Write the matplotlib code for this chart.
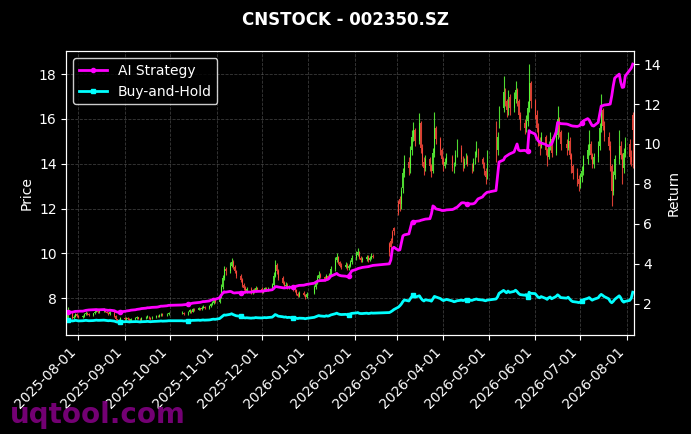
import matplotlib
matplotlib.use('Agg')
import matplotlib.pyplot as plt
import matplotlib.dates as mdates
import pandas as pd

COL_UP = '#5cff3a'
COL_DOWN = '#ff4a3d'
COL_AI = '#ff00ff'
COL_BH = '#00ffff'
COL_TEXT = 'white'

# trading calendar (weekdays minus exchange holidays)
HOLIDAYS = ['2025-10-01', '2025-10-02', '2025-10-03', '2025-10-06', '2025-10-07', '2025-10-08',
            '2026-01-01', '2026-01-02',
            '2026-02-16', '2026-02-17', '2026-02-18', '2026-02-19', '2026-02-20', '2026-02-23',
            '2026-04-06', '2026-05-01', '2026-05-04', '2026-05-05', '2026-06-19']
dates = pd.bdate_range('2025-07-25', '2026-08-05', freq='C', holidays=HOLIDAYS)

# OHLC, one line per month
opens = [
    7.05, 7.40, 7.12, 7.18, 7.30, 7.22,
    7.15, 7.20, 7.28, 7.35, 7.30, 7.25, 7.32, 7.40, 7.45, 7.38, 7.42, 7.48, 7.40, 7.35, 7.30, 7.38, 7.20, 7.05, 6.98, 7.02,
    7.10, 7.05, 7.12, 7.08, 7.00, 7.06, 7.10, 7.15, 7.08, 7.02, 7.10, 7.15, 7.20, 7.12, 7.08, 7.16, 7.22, 7.18, 7.25, 7.30, 7.24, 7.28,
    7.32, 7.35, 7.30, 7.38, 7.45, 7.40, 7.50, 7.48, 7.55, 7.50, 7.58, 7.62, 7.56, 7.65, 7.72, 7.80, 7.90,
    7.85, 8.10, 8.50, 8.90, 9.30, 9.20, 9.45, 9.60, 9.40, 9.20, 9.00, 8.80, 8.60, 8.45, 8.30, 8.40, 8.25, 8.35, 8.30, 8.45,
    8.40, 8.30, 8.38, 8.45, 8.35, 8.42, 8.60, 9.00, 9.50, 9.20, 8.90, 8.70, 8.55, 8.60, 8.45, 8.50, 8.40, 8.35, 8.20, 8.10, 8.25, 8.15, 8.05,
    8.22, 8.50, 8.70, 8.90, 9.05, 8.95, 8.85, 9.00, 8.90, 9.05, 9.30, 9.70, 9.85, 9.60, 9.45, 9.40, 9.50, 9.35, 9.45, 9.60,
    9.80, 9.95, 10.05, 9.80, 9.70, 9.75, 9.85, 9.70, 9.80, 9.90, 10.40, 10.55, 10.95, 11.15,
    12.30, 12.45, 12.20, 12.90, 13.60, 14.10, 13.80, 14.60, 15.20, 15.50, 15.00, 15.80, 14.70, 14.10, 13.80, 14.20, 13.90, 13.70, 14.50, 15.60, 15.10, 14.60,
    14.20, 13.90, 14.10, 14.30, 13.80, 14.00, 14.40, 14.70, 14.20, 13.90, 14.10, 14.30, 14.00, 13.80, 14.10, 14.40, 14.60, 14.20, 14.00, 13.70, 13.40,
    15.00, 14.60, 15.80, 16.50, 17.20, 16.80, 16.40, 17.00, 16.50, 16.90, 17.30, 16.80, 16.20, 15.80, 15.60, 15.90, 16.50, 17.60,
    16.80, 16.20, 15.60, 15.00, 14.80, 15.20, 14.60, 14.30, 14.80, 15.10, 14.50, 15.30, 16.00, 15.40, 14.90, 14.70, 15.00, 14.40, 13.90, 13.60, 13.30,
    13.10, 13.40, 13.70, 14.20, 14.60, 14.90, 14.40, 14.00, 14.30, 14.80, 15.60, 16.40, 15.70, 15.20, 14.80, 13.90, 12.80, 13.50, 14.20, 14.80, 14.40, 13.80, 14.50,
    14.90, 14.30, 16.20,
]
highs = [
    7.60, 7.44, 7.24, 7.36, 7.35, 7.27,
    7.25, 7.33, 7.42, 7.38, 7.33, 7.36, 7.46, 7.52, 7.48, 7.46, 7.55, 7.52, 7.44, 7.38, 7.42, 7.40, 7.24, 7.08, 7.06, 7.14,
    7.14, 7.16, 7.15, 7.11, 7.10, 7.14, 7.19, 7.18, 7.10, 7.14, 7.19, 7.24, 7.22, 7.15, 7.20, 7.27, 7.25, 7.29, 7.36, 7.33, 7.32, 7.38,
    7.42, 7.39, 7.42, 7.50, 7.48, 7.55, 7.54, 7.60, 7.57, 7.63, 7.68, 7.65, 7.70, 7.78, 7.86, 8.02, 7.95,
    8.20, 8.62, 9.05, 9.45, 9.40, 9.60, 9.80, 9.70, 9.50, 9.28, 9.08, 8.88, 8.70, 8.55, 8.50, 8.48, 8.42, 8.44, 8.55, 8.52,
    8.48, 8.42, 8.52, 8.50, 8.48, 8.70, 9.15, 9.72, 9.58, 9.30, 8.98, 8.78, 8.72, 8.66, 8.58, 8.56, 8.45, 8.40, 8.26, 8.32, 8.30, 8.20, 8.28,
    8.60, 8.82, 9.05, 9.20, 9.12, 9.00, 9.08, 9.04, 9.12, 9.42, 9.85, 10.02, 9.90, 9.68, 9.55, 9.62, 9.56, 9.52, 9.70, 9.92,
    10.10, 10.22, 10.12, 9.90, 9.85, 9.95, 9.92, 9.88, 10.00, 9.98, 10.50, 10.70, 11.05, 11.20,
    12.40, 12.55, 12.95, 13.80, 14.40, 14.30, 14.80, 15.50, 15.85, 15.60, 16.25, 15.90, 14.90, 14.30, 14.40, 14.30, 14.00, 14.70, 16.30, 15.70, 15.20, 14.70,
    14.30, 14.25, 14.50, 14.40, 14.10, 14.60, 15.10, 14.85, 14.35, 14.25, 14.50, 14.40, 14.05, 14.25, 14.55, 15.00, 14.70, 14.30, 14.10, 13.80, 14.60,
    15.90, 15.40, 16.60, 17.90, 17.40, 16.90, 17.30, 17.10, 17.20, 17.70, 17.40, 16.90, 16.30, 16.00, 16.20, 16.80, 18.45, 17.70,
    16.90, 16.40, 15.80, 15.20, 15.40, 15.30, 14.70, 15.00, 15.40, 15.20, 15.50, 16.60, 16.10, 15.50, 15.10, 15.40, 15.20, 14.50, 14.00, 13.80, 13.50,
    13.60, 13.90, 14.40, 14.90, 15.50, 15.00, 14.50, 14.50, 15.00, 15.80, 17.10, 16.50, 15.90, 15.40, 15.00, 14.00, 13.70, 14.40, 15.50, 15.00, 14.50, 14.70, 15.20,
    15.10, 14.60, 16.30,
]
lows = [
    6.95, 7.06, 7.05, 7.14, 7.18, 7.10,
    7.12, 7.17, 7.25, 7.27, 7.22, 7.22, 7.30, 7.37, 7.34, 7.35, 7.40, 7.37, 7.32, 7.26, 7.27, 7.16, 7.00, 6.93, 6.95, 7.00,
    7.00, 7.02, 7.04, 6.96, 6.97, 7.03, 7.07, 7.05, 6.98, 7.00, 7.07, 7.12, 7.09, 7.04, 7.05, 7.13, 7.14, 7.15, 7.21, 7.20, 7.21, 7.25,
    7.28, 7.26, 7.27, 7.35, 7.36, 7.37, 7.44, 7.45, 7.46, 7.47, 7.54, 7.52, 7.52, 7.61, 7.68, 7.76, 7.80,
    7.80, 8.02, 8.40, 8.82, 9.05, 9.12, 9.38, 9.32, 9.12, 8.92, 8.72, 8.52, 8.36, 8.22, 8.24, 8.18, 8.20, 8.24, 8.26, 8.32,
    8.22, 8.24, 8.32, 8.30, 8.30, 8.38, 8.55, 8.95, 9.10, 8.82, 8.62, 8.48, 8.50, 8.40, 8.40, 8.34, 8.28, 8.14, 8.04, 8.05, 8.08, 7.97, 8.00,
    8.18, 8.42, 8.62, 8.84, 8.90, 8.78, 8.80, 8.84, 8.86, 9.00, 9.22, 9.60, 9.52, 9.38, 9.32, 9.34, 9.28, 9.28, 9.40, 9.52,
    9.72, 9.88, 9.74, 9.60, 9.62, 9.68, 9.62, 9.64, 9.74, 9.78, 9.87, 10.15, 10.45, 10.80,
    11.70, 11.90, 12.00, 12.70, 13.40, 13.50, 13.60, 14.40, 15.00, 14.80, 14.90, 14.50, 13.90, 13.50, 13.70, 13.70, 13.40, 13.60, 14.30, 14.90, 14.40, 14.00,
    13.70, 13.80, 14.00, 13.70, 13.60, 13.90, 14.30, 14.10, 13.70, 13.80, 14.00, 13.90, 13.60, 13.70, 14.00, 14.30, 14.10, 13.80, 13.50, 13.10, 13.30,
    14.10, 14.40, 15.60, 16.30, 16.60, 16.10, 16.20, 16.20, 16.30, 16.70, 16.60, 16.00, 15.50, 15.35, 15.40, 15.70, 16.30, 16.50,
    16.00, 15.40, 14.80, 14.40, 14.70, 14.40, 13.90, 14.20, 14.60, 14.30, 14.40, 15.10, 15.20, 14.60, 14.40, 14.60, 14.20, 13.60, 13.30, 13.00, 12.80,
    12.90, 13.20, 13.50, 14.00, 14.40, 14.20, 13.80, 13.80, 14.10, 14.60, 15.40, 15.50, 15.00, 14.60, 13.70, 12.10, 12.60, 13.30, 14.00, 14.20, 13.10, 13.60, 14.30,
    14.00, 13.90, 13.80,
]
closes = [
    7.40, 7.12, 7.18, 7.30, 7.22, 7.15,
    7.20, 7.28, 7.35, 7.30, 7.25, 7.32, 7.40, 7.45, 7.38, 7.42, 7.48, 7.40, 7.35, 7.30, 7.38, 7.20, 7.05, 6.98, 7.02, 7.10,
    7.05, 7.12, 7.08, 7.00, 7.06, 7.10, 7.15, 7.08, 7.02, 7.10, 7.15, 7.20, 7.12, 7.08, 7.16, 7.22, 7.18, 7.25, 7.30, 7.24, 7.28, 7.32,
    7.35, 7.30, 7.38, 7.45, 7.40, 7.50, 7.48, 7.55, 7.50, 7.58, 7.62, 7.56, 7.65, 7.72, 7.80, 7.90, 7.85,
    8.10, 8.50, 8.90, 9.30, 9.20, 9.45, 9.60, 9.40, 9.20, 9.00, 8.80, 8.60, 8.45, 8.30, 8.40, 8.25, 8.35, 8.30, 8.45, 8.40,
    8.30, 8.38, 8.45, 8.35, 8.42, 8.60, 9.00, 9.50, 9.20, 8.90, 8.70, 8.55, 8.60, 8.45, 8.50, 8.40, 8.35, 8.20, 8.10, 8.25, 8.15, 8.05, 8.20,
    8.50, 8.70, 8.90, 9.05, 8.95, 8.85, 9.00, 8.90, 9.05, 9.30, 9.70, 9.85, 9.60, 9.45, 9.40, 9.50, 9.35, 9.45, 9.60, 9.80,
    9.95, 10.05, 9.80, 9.70, 9.75, 9.85, 9.70, 9.80, 9.90, 9.85, 10.05, 10.30, 10.60, 11.00,
    11.80, 12.20, 12.80, 13.60, 14.10, 13.80, 14.60, 15.20, 15.50, 15.00, 15.80, 14.70, 14.10, 13.80, 14.20, 13.90, 13.70, 14.50, 15.60, 15.10, 14.60, 14.20,
    13.90, 14.10, 14.30, 13.80, 14.00, 14.40, 14.70, 14.20, 13.90, 14.10, 14.30, 14.00, 13.80, 14.10, 14.40, 14.60, 14.20, 14.00, 13.70, 13.40, 13.80,
    14.60, 15.20, 16.30, 17.20, 16.80, 16.40, 17.00, 16.50, 16.90, 17.30, 16.80, 16.20, 15.80, 15.60, 15.90, 16.50, 17.60, 16.80,
    16.20, 15.60, 15.00, 14.80, 15.20, 14.60, 14.30, 14.80, 15.10, 14.50, 15.30, 16.00, 15.40, 14.90, 14.70, 15.00, 14.40, 13.90, 13.60, 13.30, 13.10,
    13.40, 13.70, 14.20, 14.60, 14.90, 14.40, 14.00, 14.30, 14.80, 15.60, 16.40, 15.70, 15.20, 14.80, 13.90, 12.80, 13.50, 14.20, 14.80, 14.40, 13.80, 14.50, 14.90,
    14.30, 14.10, 15.50,
]

# cumulative return curves
ai_strategy = [
    1.58, 1.58, 1.60, 1.62, 1.62, 1.63,
    1.63, 1.65, 1.67, 1.68, 1.69, 1.70, 1.70, 1.71, 1.70, 1.70, 1.71, 1.69, 1.68, 1.67, 1.68, 1.65, 1.61, 1.58, 1.59, 1.60,
    1.62, 1.64, 1.65, 1.66, 1.68, 1.70, 1.72, 1.73, 1.74, 1.76, 1.78, 1.80, 1.80, 1.81, 1.82, 1.83, 1.84, 1.86, 1.88, 1.88, 1.90, 1.92,
    1.94, 1.95, 1.97, 2.00, 2.01, 2.03, 2.04, 2.06, 2.07, 2.09, 2.11, 2.11, 2.14, 2.17, 2.20, 2.24, 2.22,
    2.30, 2.42, 2.52, 2.60, 2.58, 2.62, 2.60, 2.55, 2.54, 2.55, 2.56, 2.57, 2.56, 2.58, 2.59, 2.58, 2.60, 2.61, 2.62, 2.62,
    2.63, 2.63, 2.65, 2.66, 2.67, 2.70, 2.76, 2.85, 2.86, 2.84, 2.80, 2.79, 2.80, 2.81, 2.82, 2.83, 2.85, 2.88, 2.90, 2.92, 2.93, 2.95, 2.97,
    3.03, 3.08, 3.12, 3.15, 3.16, 3.17, 3.20, 3.22, 3.28, 3.38, 3.48, 3.52, 3.45, 3.42, 3.40, 3.38, 3.36, 3.40, 3.52, 3.65,
    3.72, 3.76, 3.78, 3.80, 3.82, 3.85, 3.86, 3.88, 3.90, 3.92, 4.00, 4.20, 4.75, 4.83,
    4.68, 4.70, 5.05, 5.40, 5.45, 5.50, 5.80, 6.08, 6.10, 6.12, 6.15, 6.18, 6.20, 6.22, 6.24, 6.26, 6.50, 6.90, 6.85, 6.75, 6.70, 6.67,
    6.67, 6.68, 6.70, 6.72, 6.75, 6.80, 6.83, 7.05, 7.06, 7.05, 7.02, 7.00, 7.00, 7.01, 7.05, 7.15, 7.25, 7.35, 7.45, 7.52, 7.58,
    7.67, 8.40, 9.10, 9.20, 9.35, 9.40, 9.45, 9.50, 9.60, 9.80, 10.00, 9.70, 9.66, 9.68, 9.65, 9.67, 10.67, 10.60,
    10.50, 10.30, 10.17, 10.10, 10.05, 9.98, 9.92, 9.90, 9.95, 10.00, 10.60, 11.08, 11.05, 11.02, 11.00, 10.98, 10.95, 10.92, 10.90, 10.88, 10.90,
    10.95, 11.05, 11.15, 11.27, 11.20, 11.05, 10.92, 10.90, 11.08, 11.50, 11.90, 11.92, 11.95, 11.98, 12.00, 12.40, 12.90, 13.30, 13.50, 13.10, 12.83, 12.85, 13.40,
    13.70, 13.80, 14.00,
]
buy_hold = [
    1.17, 1.14, 1.15, 1.17, 1.16, 1.14,
    1.15, 1.16, 1.17, 1.16, 1.15, 1.16, 1.17, 1.18, 1.17, 1.17, 1.18, 1.17, 1.16, 1.15, 1.16, 1.13, 1.10, 1.08, 1.09, 1.10,
    1.10, 1.11, 1.10, 1.09, 1.10, 1.11, 1.11, 1.10, 1.09, 1.10, 1.11, 1.12, 1.11, 1.10, 1.11, 1.12, 1.12, 1.13, 1.14, 1.13, 1.14, 1.15,
    1.15, 1.14, 1.15, 1.16, 1.16, 1.17, 1.17, 1.18, 1.17, 1.18, 1.19, 1.18, 1.19, 1.20, 1.22, 1.23, 1.22,
    1.26, 1.32, 1.38, 1.44, 1.43, 1.47, 1.50, 1.46, 1.43, 1.40, 1.37, 1.33, 1.31, 1.29, 1.30, 1.28, 1.29, 1.29, 1.31, 1.30,
    1.29, 1.30, 1.31, 1.30, 1.31, 1.33, 1.39, 1.46, 1.43, 1.38, 1.35, 1.33, 1.34, 1.31, 1.32, 1.30, 1.30, 1.28, 1.26, 1.28, 1.27, 1.25, 1.27,
    1.32, 1.35, 1.38, 1.41, 1.39, 1.37, 1.40, 1.38, 1.40, 1.44, 1.50, 1.53, 1.49, 1.47, 1.46, 1.47, 1.45, 1.46, 1.49, 1.52,
    1.54, 1.56, 1.52, 1.51, 1.51, 1.53, 1.51, 1.52, 1.54, 1.53, 1.56, 1.60, 1.65, 1.71,
    1.83, 1.90, 1.99, 2.11, 2.19, 2.14, 2.26, 2.36, 2.42, 2.33, 2.40, 2.28, 2.19, 2.14, 2.20, 2.16, 2.13, 2.25, 2.37, 2.34, 2.26, 2.20,
    2.16, 2.19, 2.22, 2.14, 2.10, 2.12, 2.15, 2.18, 2.16, 2.18, 2.21, 2.18, 2.17, 2.20, 2.22, 2.24, 2.21, 2.19, 2.17, 2.15, 2.18,
    2.24, 2.34, 2.52, 2.67, 2.61, 2.55, 2.64, 2.57, 2.62, 2.68, 2.61, 2.52, 2.46, 2.43, 2.46, 2.33, 2.58, 2.52,
    2.51, 2.42, 2.33, 2.30, 2.36, 2.27, 2.22, 2.30, 2.34, 2.25, 2.37, 2.45, 2.39, 2.31, 2.28, 2.33, 2.24, 2.16, 2.11, 2.08, 2.06,
    2.08, 2.12, 2.20, 2.27, 2.31, 2.24, 2.18, 2.22, 2.30, 2.40, 2.47, 2.42, 2.36, 2.25, 2.12, 2.05, 2.12, 2.22, 2.40, 2.30, 2.15, 2.08, 2.12,
    2.17, 2.28, 2.58,
]

fig = plt.figure(figsize=(6.91, 4.34), dpi=100, facecolor='black')
ax = fig.add_axes([0.096, 0.228, 0.821, 0.654])
ax.set_facecolor('black')

# candlesticks
x = mdates.date2num(dates)
for xi, o, h, l, c in zip(x, opens, highs, lows, closes):
    col = COL_UP if c >= o else COL_DOWN
    ax.vlines(xi, l, h, color=col, linewidth=0.8, alpha=0.85)
    ax.bar(xi, abs(c - o) or 0.01, bottom=min(o, c), width=0.6, color=col, alpha=0.85, linewidth=0)

ax.set_ylabel('Price', color=COL_TEXT)
ax.set_xlim(mdates.datestr2num('2025-07-24'), mdates.datestr2num('2026-08-05') + 0.6)
ax.grid(True, color='gray', linestyle='--', linewidth=0.6, alpha=0.45)
ax.xaxis.set_major_locator(mdates.MonthLocator())
ax.xaxis.set_major_formatter(mdates.DateFormatter('%Y-%m-%d'))
plt.setp(ax.get_xticklabels(), rotation=45, ha='right')

ax2 = ax.twinx()
ax2.plot(dates, ai_strategy, color=COL_AI, linewidth=2, marker='o', markersize=3,
         markevery=25, label='AI Strategy')
ax2.plot(dates, buy_hold, color=COL_BH, linewidth=2, marker='s', markersize=3,
         markevery=25, label='Buy-and-Hold')
ax2.set_ylabel('Return', color=COL_TEXT)

for a in (ax, ax2):
    a.tick_params(colors=COL_TEXT, labelsize=10)
    for spine in a.spines.values():
        spine.set_color(COL_TEXT)

ax2.legend(loc='upper left', fontsize=10, facecolor='black', edgecolor=COL_TEXT,
           labelcolor=COL_TEXT)

fig.suptitle('CNSTOCK - 002350.SZ', color=COL_TEXT, fontsize=12, fontweight='bold', y=0.975)
fig.text(0.014, 0.012, 'uqtool.com', color='#800080', fontsize=20, fontweight='bold',
         ha='left', va='bottom', alpha=0.9)

fig.savefig('out.png', dpi=100, facecolor='black')
